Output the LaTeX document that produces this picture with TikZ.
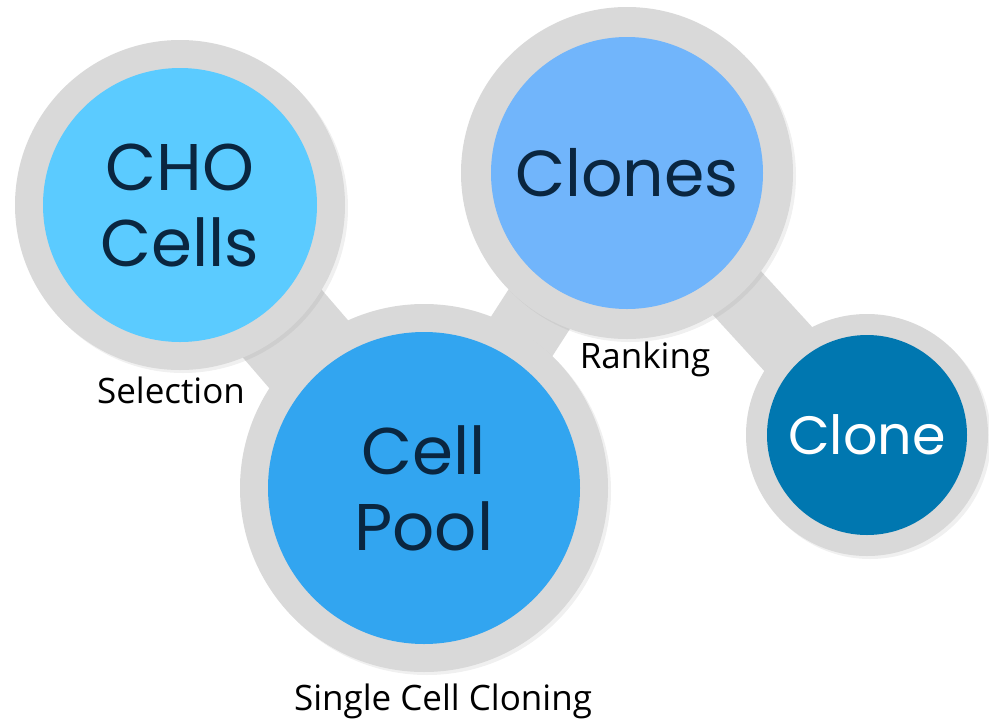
\documentclass[tikz,border=0pt]{standalone}
\usepackage{fontspec}
\setmainfont{Open Sans}
\newfontfamily\circfont{Poppins}
\usetikzlibrary{shadows,backgrounds}
\definecolor{ringgrey}{RGB}{217,217,217}
\definecolor{chocolor}{RGB}{91,203,255}
\definecolor{poolcolor}{RGB}{50,165,240}
\definecolor{clonescolor}{RGB}{113,181,251}
\definecolor{clonecolor}{RGB}{0,119,176}
\definecolor{navytext}{RGB}{10,38,64}
\tikzset{
  ring/.style={circle, fill=ringgrey, inner sep=0pt, minimum size=#1, drop shadow={opacity=0.12, shadow xshift=3pt, shadow yshift=-3pt}},
  core/.style={circle, inner sep=0pt, minimum size=#1, align=center, text=navytext},
  neck/.style={draw=ringgrey, line width=#1},
  steplabel/.style={anchor=base, font=\fontsize{35}{42}\selectfont}
}

\begin{document}
\begin{tikzpicture}[x=1pt,y=-1pt]
\useasboundingbox (0,0) rectangle (989,721);

\node[ring=330] (cho) at (180,205) {};
\node[core=274, fill=chocolor, font=\circfont\fontsize{66}{76}\selectfont] (chotext) at (cho) {CHO\\Cells};
\node[ring=368] (pool) at (424,488) {};
\node[core=312, fill=poolcolor, font=\circfont\fontsize{66}{76}\selectfont] (pooltext) at (pool) {Cell\\Pool};
\node[ring=332] (clones) at (627,173) {};
\node[core=272, fill=clonescolor, font=\circfont\fontsize{65}{76}\selectfont] (clonestext) at (clones) {Clones};
\node[ring=242] (clone) at (867,435) {};
\node[core=200, fill=clonecolor, text=white, font=\circfont\fontsize{54}{64}\selectfont] (clonetext) at (clone) {Clone};

\begin{scope}[on background layer]
\draw[neck=104] (cho.center) -- (pool.center);
\draw[neck=73] (pool.center) -- (clones.center);
\draw[neck=65] (clones.center) -- (clone.center);
\end{scope}

\node[steplabel] (selection) at (171,403) {Selection};
\node[steplabel] (ranking) at (645,368) {Ranking};
\node[steplabel] (cloning) at (443,710) {Single Cell Cloning};
\end{tikzpicture}
\end{document}
